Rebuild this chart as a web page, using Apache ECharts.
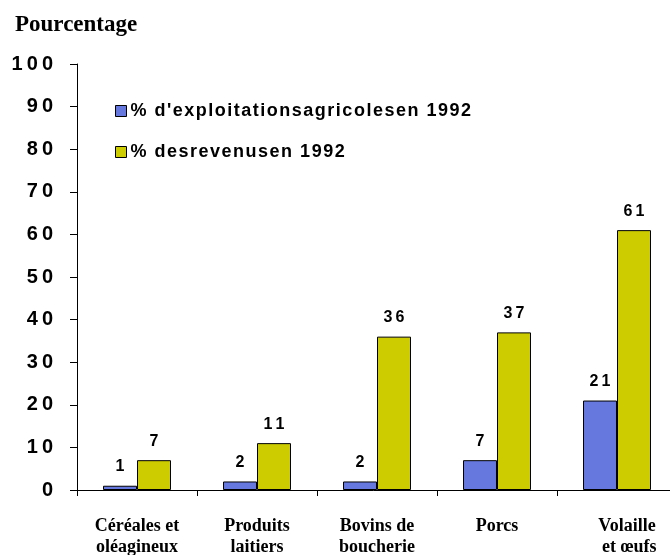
<!DOCTYPE html>
<html>
<head>
<meta charset="utf-8">
<script src="https://cdn.jsdelivr.net/npm/echarts@6/dist/echarts.min.js"></script>
<style>html,body{margin:0;padding:0;background:#fff}#c{width:670px;height:555px}</style>
</head>
<body>
<div id="c"></div>
<script>
const categories = ["Céréales et\noléagineux", "Produits\nlaitiers", "Bovins de\nboucherie", "Porcs", "Volaille\n et œufs"];
const farms1992 = [1, 2, 2, 7, 21];
const income1992 = [7, 11, 36, 37, 61];
const seriesNames = ["% d'exploitationsagricolesen 1992", "% desrevenusen 1992"];
const yTicks = [0, 10, 20, 30, 40, 50, 60, 70, 80, 90, 100];

const thin = s => String(s).split('').join('\u2009');
const hair = s => String(s).split('').join('\u200A');
const chart = echarts.init(document.getElementById('c'), null, {renderer: 'canvas'});
const labelStyle = {show: true, position: 'top', distance: 11, color: '#000', fontFamily: 'Liberation Sans, Arial', fontWeight: 'bold', fontSize: 16, formatter: p => thin(p.value)};
const catData = categories.map((c, i) => i === categories.length - 1
  ? {value: c, textStyle: {padding: [0, 0, 0, 20]}}
  : c);
chart.setOption({
  animation: false,
  title: {text: 'Pourcentage', left: 10, top: 9, textStyle: {fontFamily: 'Liberation Serif, Times New Roman', fontWeight: 'bold', fontSize: 23, color: '#000'}},
  legend: {
    orient: 'vertical', left: 110, top: 97, itemWidth: 11, itemHeight: 11, itemGap: 23,
    icon: 'rect', selectedMode: false,
    itemStyle: {borderColor: '#000', borderWidth: 1},
    textStyle: {fontFamily: 'Liberation Sans, Arial', fontWeight: 'bold', fontSize: 18, color: '#000', padding: [0,0,0,-1]},
    formatter: n => hair(n),
    data: seriesNames
  },
  grid: {left: 77, top: 64, width: 600, height: 426, containLabel: false, outerBoundsMode: 'none'},
  xAxis: {
    type: 'category', data: catData,
    axisLine: {lineStyle: {color: '#000', width: 1}},
    axisTick: {show: true, length: 6, inside: false, lineStyle: {color: '#000'}},
    axisLabel: {margin: 26, color: '#000', fontFamily: 'Liberation Serif, Times New Roman', fontWeight: 'bold', fontSize: 18, lineHeight: 21, interval: 0}
  },
  yAxis: {
    type: 'value', min: 0, max: 100, interval: 10,
    axisLine: {show: true, lineStyle: {color: '#000', width: 1}},
    axisTick: {show: true, length: 7, lineStyle: {color: '#000'}},
    splitLine: {show: false},
    axisLabel: {margin: 24, color: '#000', fontFamily: 'Liberation Sans, Arial', fontWeight: 'bold', fontSize: 20, formatter: v => thin(v)}
  },
  series: [
    {name: seriesNames[0], type: 'bar', data: farms1992, barWidth: 34, barGap: '0%',
     itemStyle: {color: '#6677DD', borderColor: '#000', borderWidth: 1}, label: labelStyle},
    {name: seriesNames[1], type: 'bar', data: income1992, barWidth: 34, barGap: '0%',
     itemStyle: {color: '#CCCC00', borderColor: '#000', borderWidth: 1}, label: labelStyle}
  ]
});
</script>
</body>
</html>
